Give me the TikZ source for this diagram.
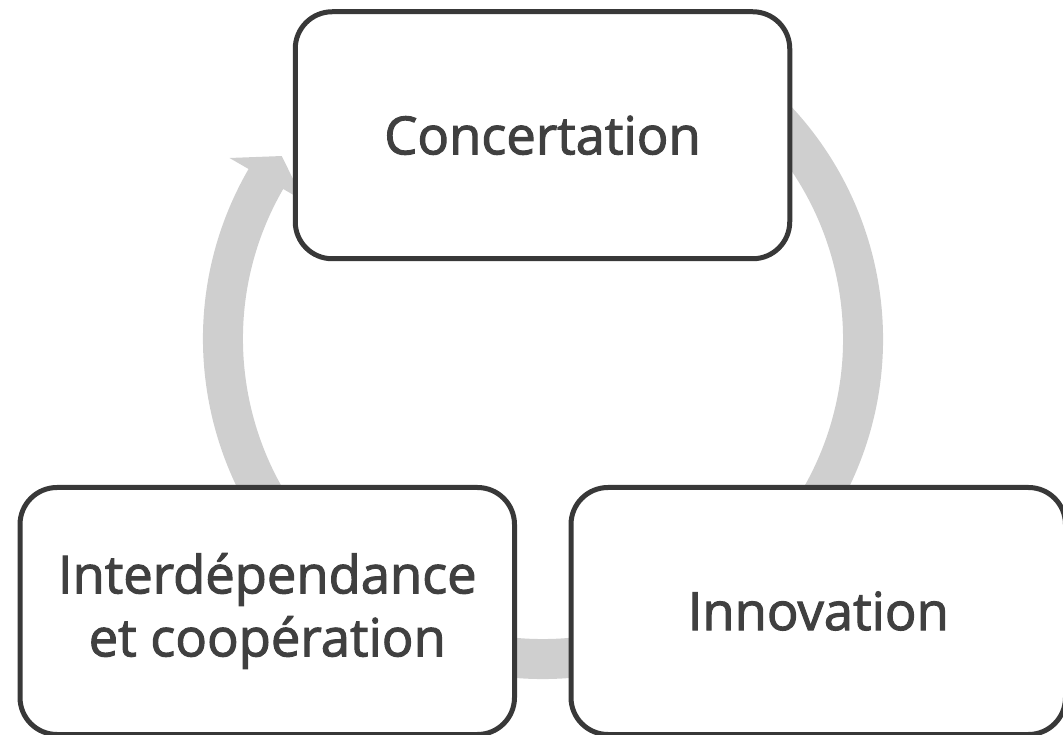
\documentclass[tikz,border=0pt]{standalone}
\usepackage{fontspec}
\setmainfont[FakeBold=2]{Open Sans}
\definecolor{ringgray}{HTML}{CFCFCF}
\definecolor{boxline}{HTML}{383838}
\definecolor{textcol}{HTML}{404040}
\begin{document}
\begin{tikzpicture}[x=1pt,y=1pt,
  ring/.style={fill=ringgray},
  stagebox/.style={draw=boxline, line width=5pt, rounded corners=37pt, fill=white,
    minimum width=494.5pt, minimum height=247pt, inner sep=0pt, text=textcol,
    align=center, font=\fontsize{52.5}{63}\selectfont}]
\useasboundingbox (0,0) rectangle (1063,734);
% ring arrow
\begin{scope}[shift={(543,395)}]
\fill[ring] (60:340) arc[start angle=60, end angle=-210, radius=340]
  -- (-210:362) -- (-215:319) -- (-210:276) -- (-210:300)
  arc[start angle=-210, end angle=60, radius=300] -- cycle;
\end{scope}
% boxes
\node[stagebox] (conc) at (542.5,598.75) {Concertation};
\node[stagebox] (inno) at (818.25,123) {Innovation};
\node[stagebox] (inter) at (267.25,123) {Interdépendance\\et coopération};
\end{tikzpicture}
\end{document}
